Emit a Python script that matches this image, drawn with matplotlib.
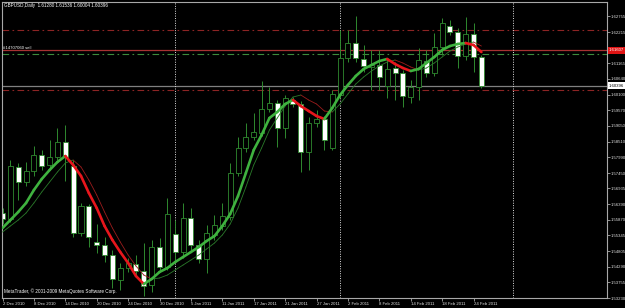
import numpy as np
import matplotlib.pyplot as plt
from matplotlib.patches import Rectangle
from matplotlib.collections import LineCollection

plt.rcParams['font.family'] = ['Liberation Sans', 'DejaVu Sans']

# GBPUSD daily, 2 Dec 2010 .. 25 Feb 2011 (one entry per bar)
opens = [1.56101, 1.55898, 1.57655, 1.57148, 1.57520, 1.58060, 1.57722, 1.57993, 1.58499, 1.57689,
         1.55425, 1.56337, 1.55121, 1.55020, 1.54682, 1.53838, 1.54243, 1.54378, 1.54142, 1.53669,
         1.54952, 1.54277, 1.55391, 1.54783, 1.55932, 1.55020, 1.54547, 1.55358, 1.55662, 1.55966,
         1.57452, 1.58297, 1.58668, 1.58803, 1.59614, 1.59817, 1.58972, 1.59918, 1.59783, 1.58161,
         1.59141, 1.59276, 1.58297, 1.60087, 1.61337, 1.61843, 1.61303, 1.61033, 1.61100, 1.60391,
         1.60999, 1.60830, 1.60019, 1.60357, 1.61235, 1.60830, 1.61708, 1.62418, 1.62215, 1.61404,
         1.62147, 1.61371]
highs = [1.56270, 1.57891, 1.57790, 1.57824, 1.58364, 1.58229, 1.58567, 1.58972, 1.59073, 1.57891,
         1.56439, 1.56405, 1.55729, 1.55290, 1.54851, 1.54412, 1.54581, 1.54682, 1.55087, 1.55189,
         1.55256, 1.56608, 1.55864, 1.56439, 1.56270, 1.55189, 1.55695, 1.56033, 1.56439, 1.57790,
         1.58668, 1.59141, 1.59479, 1.60560, 1.60357, 1.59918, 1.60087, 1.60019, 1.59884, 1.59344,
         1.59580, 1.59378, 1.60256, 1.62283, 1.62283, 1.62756, 1.61776, 1.61607, 1.61607, 1.61337,
         1.61202, 1.60931, 1.60594, 1.61675, 1.61607, 1.62181, 1.62688, 1.62620, 1.62350, 1.62722,
         1.62519, 1.61438]
lows = [1.55729, 1.55797, 1.56540, 1.57013, 1.57351, 1.57553, 1.57621, 1.57891, 1.57182, 1.55290,
        1.55324, 1.54952, 1.54750, 1.54446, 1.53567, 1.53500, 1.54108, 1.54006, 1.53297, 1.53432,
        1.54108, 1.54175, 1.54446, 1.54581, 1.54851, 1.54412, 1.54074, 1.55189, 1.55527, 1.55864,
        1.57351, 1.58161, 1.58567, 1.58702, 1.59513, 1.58330, 1.58634, 1.59682, 1.57486, 1.57553,
        1.59006, 1.58229, 1.58229, 1.59986, 1.61202, 1.61202, 1.60864, 1.60256, 1.60256, 1.59986,
        1.59918, 1.59682, 1.59817, 1.59918, 1.60695, 1.60729, 1.61438, 1.62114, 1.60999, 1.61269,
        1.60864, 1.60323]
closes = [1.55898, 1.57689, 1.57148, 1.57520, 1.58060, 1.57689, 1.57993, 1.58499, 1.57993, 1.55425,
          1.56337, 1.55290, 1.55020, 1.54682, 1.53871, 1.54243, 1.54412, 1.54142, 1.53635, 1.54952,
          1.54277, 1.56067, 1.54783, 1.55932, 1.55020, 1.54547, 1.55425, 1.55695, 1.56000, 1.57452,
          1.58297, 1.58668, 1.58837, 1.59614, 1.59817, 1.58972, 1.59986, 1.59783, 1.58161, 1.59141,
          1.59276, 1.58567, 1.60121, 1.61337, 1.61843, 1.61337, 1.61067, 1.61100, 1.60695, 1.60965,
          1.60830, 1.60053, 1.60357, 1.61269, 1.60830, 1.61708, 1.62519, 1.62215, 1.61404, 1.62147,
          1.61371, 1.60396]

# fast (thick) and slow (thin) averages as drawn on the chart
ma_fast = [1.55594, 1.55864, 1.56135, 1.56439, 1.56878, 1.57249, 1.57553, 1.57824, 1.58026, 1.57722,
           1.57351, 1.56776, 1.56270, 1.55662, 1.55189, 1.54783, 1.54412, 1.53973, 1.53702, 1.53871,
           1.54108, 1.54243, 1.54446, 1.54615, 1.54783, 1.54952, 1.55155, 1.55324, 1.55662, 1.56067,
           1.56675, 1.57452, 1.58229, 1.58736, 1.59310, 1.59513, 1.59783, 1.59918, 1.59715, 1.59546,
           1.59378, 1.59276, 1.59648, 1.60087, 1.60425, 1.60729, 1.60965, 1.61100, 1.61235, 1.61303,
           1.61134, 1.60999, 1.60898, 1.60965, 1.61168, 1.61371, 1.61607, 1.61742, 1.61810, 1.61843,
           1.61776, 1.61539]
ma_slow = [1.55459, 1.55662, 1.55864, 1.56101, 1.56439, 1.56810, 1.57148, 1.57486, 1.57790, 1.57891,
           1.57655, 1.57216, 1.56709, 1.56135, 1.55594, 1.55121, 1.54682, 1.54311, 1.54006, 1.53871,
           1.53905, 1.54006, 1.54175, 1.54344, 1.54513, 1.54682, 1.54885, 1.55087, 1.55358, 1.55729,
           1.56270, 1.56979, 1.57722, 1.58297, 1.58905, 1.59310, 1.59715, 1.60019, 1.60087, 1.59918,
           1.59783, 1.59546, 1.59513, 1.59783, 1.60121, 1.60458, 1.60695, 1.60898, 1.61067, 1.61202,
           1.61269, 1.61168, 1.61033, 1.60931, 1.60999, 1.61168, 1.61371, 1.61573, 1.61708, 1.61810,
           1.61877, 1.61742]

date_ticks = [0, 4, 8, 12, 16, 20, 24, 28, 32, 36, 40, 44, 48, 52, 56, 60]
date_labels = ['2 Dec 2010', '8 Dec 2010', '14 Dec 2010', '20 Dec 2010', '24 Dec 2010',
               '30 Dec 2010', '5 Jan 2011', '11 Jan 2011', '17 Jan 2011', '21 Jan 2011',
               '27 Jan 2011', '2 Feb 2011', '8 Feb 2011', '14 Feb 2011', '18 Feb 2011',
               '24 Feb 2011']
price_ticks = [1.53230, 1.53755, 1.54290, 1.54805, 1.55345, 1.55870, 1.56390, 1.56935, 1.57450,
               1.57990, 1.58510, 1.59050, 1.59570, 1.60100, 1.60640, 1.61165, 1.61690, 1.62215,
               1.62755]
month_seps = [22, 43, 65]

sell_price = 1.61607
sell_label = '#14707060 sell'
tp_level = 1.61472
upper_level = 1.62283
lower_level = 1.60256
bid = 1.60396
title = 'GBPUSD,Daily  1.61280 1.61536 1.60004 1.60396'

GREEN = '#2f8a2f'
fig = plt.figure(figsize=(6.25, 3.08), dpi=100, facecolor='black')
ax = fig.add_axes([2 / 625, 10 / 308, 605 / 625, 296 / 308])
ax.set_facecolor('black')
ax.set_xlim(-0.064, 77.0)
ax.set_ylim(1.53230, 1.63229)

for s in ax.spines.values():
    s.set_color('#a8a8a8')
    s.set_linewidth(0.8)

# candles
for i in range(len(opens)):
    o, h, l, c = opens[i], highs[i], lows[i], closes[i]
    ax.vlines(i, l, h, color=GREEN, lw=0.7, zorder=2)
    bear = c < o
    ax.add_patch(Rectangle((i - 0.32, min(o, c)), 0.64, max(abs(c - o), 0.00005),
                           facecolor='white' if bear else 'black', edgecolor=GREEN,
                           lw=0.6, zorder=2.2))


def colored(vals, up, down, lw, z):
    x = np.arange(len(vals))
    pts = np.column_stack([x, vals])
    segs = np.stack([pts[:-1], pts[1:]], axis=1)
    cols = [down if vals[k + 1] < vals[k] else up for k in range(len(vals) - 1)]
    ax.add_collection(LineCollection(segs, colors=cols, linewidths=lw,
                                     capstyle='round', zorder=z))


colored(ma_slow, '#2a7a2a', '#9a1c1c', 0.6, 3)
colored(ma_fast, '#3fb23f', '#e8161c', 1.9, 4)

# levels
dashdot = (0, (6, 3, 1.5, 3))
ax.axhline(upper_level, color='#8c2424', ls=dashdot, lw=0.8, zorder=1)
ax.axhline(lower_level, color='#8c2424', ls=dashdot, lw=0.8, zorder=1)
ax.axhline(tp_level, color='#3c8c3c', ls=dashdot, lw=0.8, zorder=1)
ax.axhline(sell_price, color='#a83232', lw=0.9, zorder=1)
ax.axhline(bid, color='#808080', lw=0.9, zorder=1)
for m in month_seps:
    ax.axvline(m, color='#e0e0e0', ls=(0, (1, 1.5)), lw=0.7, zorder=1)

# axes ticks (the one under the red order label is hidden, as on the chart)
ax.yaxis.tick_right()
ax.set_yticks(price_ticks)
ax.set_yticklabels(['' if abs(v - sell_price) < 0.002 else '%.5f' % v for v in price_ticks])
ax.set_xticks(date_ticks)
ax.set_xticklabels(date_labels, ha='left')
ax.tick_params(axis='both', colors='#a8a8a8', labelcolor='#e0e0e0', labelsize=3.1,
               length=2, width=0.6, pad=0.8)

ytr = ax.get_yaxis_transform()
ax.text(1.0035, sell_price, '%.5f' % sell_price, transform=ytr, fontsize=3.1, color='white',
        va='center', ha='left', clip_on=False, zorder=6,
        bbox=dict(boxstyle='square,pad=0.35', fc='#e01414', ec='none'))
ax.text(1.0035, bid, '%.5f' % bid, transform=ytr, fontsize=3.1, color='black',
        va='center', ha='left', clip_on=False, zorder=6,
        bbox=dict(boxstyle='square,pad=0.35', fc='white', ec='none'))
ax.text(0.002, sell_price, sell_label, transform=ytr, fontsize=3.1, color='white',
        va='bottom', ha='left', zorder=6)

fig.text(4 / 625, 1 - 6 / 308, title, color='white', fontsize=3.3, va='center')
ax.text(0.003, 0.015, 'MetaTrader, \u00a9 2001-2009 MetaQuotes Software Corp.',
        transform=ax.transAxes, color='white', fontsize=3.3, va='bottom', zorder=6)

fig.savefig('out.png', dpi=100, facecolor='black')
